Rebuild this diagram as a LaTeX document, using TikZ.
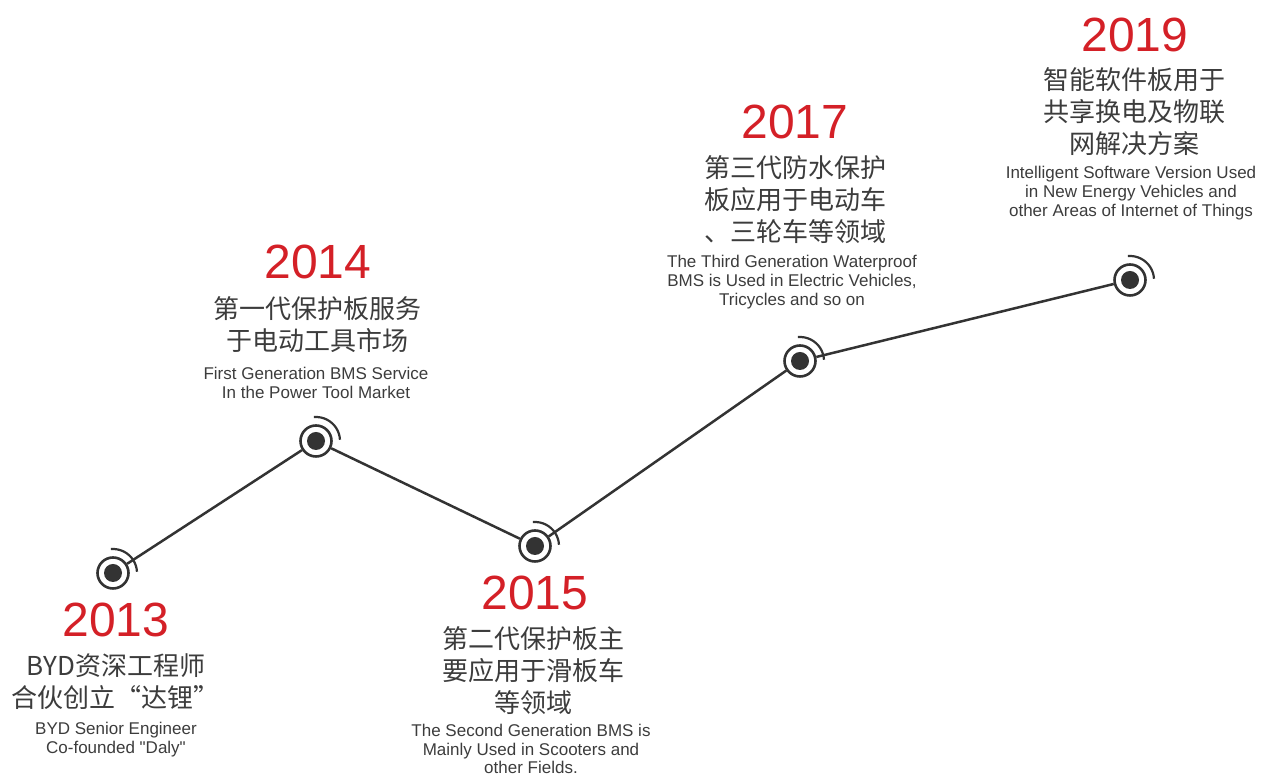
\documentclass[tikz,border=0pt]{standalone}
\usepackage{fontspec}
\setmainfont{Liberation Sans}
\newfontfamily\enq{Liberation Sans}
\newfontfamily\cjk{Noto Sans CJK SC}
\definecolor{txt}{HTML}{3C3C3C}
\definecolor{yr}{HTML}{D42027}
\definecolor{dk}{HTML}{333333}
\begin{document}
\begin{tikzpicture}[x=1pt,y=1pt,
  ring/.style={circle,draw=dk,line width=2.6pt,fill=white,minimum size=31pt,inner sep=0pt},
  link/.style={draw=dk,line width=2.5pt},
  wave/.style={draw=dk,line width=2.2pt},
  year/.style={text=yr,inner sep=0pt,font=\fontsize{48}{48}\selectfont},
  cn/.style={text=txt,inner sep=0pt,align=center,font=\cjk\fontsize{26}{32}\selectfont},
  en/.style={text=txt,inner sep=0pt,align=center,font=\fontsize{17}{18.8}\selectfont}]
\useasboundingbox (0,0) rectangle (1264,775);
% markers
\node[ring] (m13) at (113,202) {};
\node[ring] (m14) at (316,334) {};
\node[ring] (m15) at (535,229) {};
\node[ring] (m17) at (800,414) {};
\node[ring] (m19) at (1130,495) {};
% connectors
\draw[link] (m13) -- (m14);
\draw[link] (m14) -- (m15);
\draw[link] (m15) -- (m17);
\draw[link] (m17) -- (m19);
\foreach \m in {m13,m14,m15,m17,m19}{
  \fill[dk] (\m.center) circle[radius=9];
  \draw[wave] ([shift={(3:24)}]\m.center) arc[start angle=3,end angle=95,radius=24];
}
% 2013
\node[year] (y13) at (116,155) {2013};
\node[cn] (c13) at (116,93) {BYD资深工程师\\合伙创立“达锂”};
\node[en] (e13) at (116,35) {BYD Senior Engineer\\Co-founded {\enq"}Daly{\enq"}};
% 2014
\node[year] (y14) at (318,513) {2014};
\node[cn] (c14) at (317,450) {第一代保护板服务\\于电动工具市场};
\node[en] (e14) at (316,392) {First Generation BMS Service\\In the Power Tool Market};
% 2015
\node[year] (y15) at (535,182) {2015};
\node[cn] (c15) at (533,104) {第二代保护板主\\要应用于滑板车\\等领域};
\node[en] (e15) at (531,26) {The Second Generation BMS is\\Mainly Used in Scooters and\\other Fields.};
% 2017
\node[year] (y17) at (795,653) {2017};
\node[cn] (c17) at (795,575) {第三代防水保护\\板应用于电动车\\、三轮车等领域};
\node[en] (e17) at (792,493) {The Third Generation Waterproof\\BMS is Used in Electric Vehicles,\\Tricycles and so on};
% 2019
\node[year] (y19) at (1135,740) {2019};
\node[cn] (c19) at (1134,663) {智能软件板用于\\共享换电及物联\\网解决方案};
\node[en] (e19) at (1131,582) {Intelligent Software Version Used\\in New Energy Vehicles and\\other Areas of Internet of Things};
\end{tikzpicture}
\end{document}
